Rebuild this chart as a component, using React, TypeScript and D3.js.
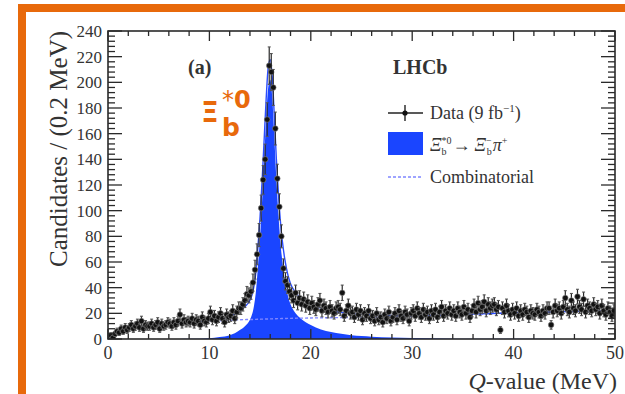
import React from 'react';
import * as d3 from 'd3';

// ---------- DATA ----------
const binStart = 0;
const binWidth = 0.2; // MeV
const dataCounts: number[] = [
  2, 3, 1, 4, 6, 5, 8, 6, 9, 7,
  9, 11, 8, 10, 12, 9, 14, 8, 11, 10,
  10, 12, 9, 11, 13, 8, 12, 10, 11, 13,
  12, 10, 13, 11, 14, 19, 12, 15, 13, 14,
  13, 16, 12, 15, 14, 11, 17, 14, 13, 16,
  21, 15, 18, 14, 17, 20, 16, 13, 19, 17,
  18, 22, 16, 21, 24, 24, 27, 30, 35, 34,
  37, 44, 54, 66, 81, 102, 124, 140, 171, 213,
  208, 196, 164, 125, 103, 80, 55, 45, 42, 37,
  34, 30, 36, 28, 32, 27, 31, 26, 29, 24,
  28, 25, 23, 27, 30, 22, 26, 24, 21, 25,
  22, 20, 24, 25, 23, 36, 18, 22, 26, 20,
  21, 17, 23, 19, 22, 15, 20, 18, 22, 16,
  18, 14, 20, 15, 17, 13, 19, 16, 21, 14,
  17, 20, 15, 22, 18, 16, 21, 19, 14, 20,
  22, 18, 24, 20, 17, 23, 19, 21, 16, 22,
  19, 23, 17, 21, 25, 18, 22, 20, 24, 19,
  22, 18, 24, 21, 19, 25, 20, 23, 17, 22,
  26, 21, 28, 23, 25, 29, 22, 27, 24, 26,
  27, 23, 25, 7, 24, 21, 26, 22, 19, 23,
  20, 24, 18, 22, 19, 23, 21, 17, 22, 20,
  19, 23, 21, 18, 22, 20, 24, 24, 11, 21,
  26, 22, 24, 20, 25, 32, 23, 21, 30, 24,
  22, 33, 25, 23, 31, 21, 26, 24, 22, 27,
  23, 25, 20, 26, 22, 19, 24, 21, 18, 22,
];

const fitQ: number[] = [
  0, 0.5, 1, 2, 3, 4, 5, 6, 7, 8, 9, 10, 11, 12,
  12.5, 13, 13.5, 14,
  14.2, 14.4, 14.6, 14.8, 15.0, 15.2, 15.4, 15.6, 15.8, 16.0, 16.2, 16.4, 16.6, 16.8, 17.0, 17.2, 17.4, 17.6, 17.8,
  18, 18.5, 19, 19.5, 20,
  21, 22, 23, 24, 25, 26,
  28, 30, 33, 36, 40, 45, 50,
];
const signalFit: number[] = [
  0, 0, 0, 0, 0, 0, 0, 0, 0.05, 0.1, 0.25, 0.5, 1.5, 3,
  4.5, 7, 10, 15,
  19, 26, 38, 58, 80, 108, 140, 172, 196, 202, 188, 158, 125, 98, 76, 60, 48, 39, 32,
  27, 20, 16, 13, 11,
  7.5, 5.5, 4, 3, 2.3, 1.8,
  1.1, 0.7, 0.4, 0.2, 0.1, 0, 0,
];
const combinatorialFit: number[] = [
  0, 3, 5, 7.5, 9, 10, 11, 11.5, 12.2, 12.8, 13.3, 13.8, 14.2, 14.6,
  14.8, 15, 15.1, 15.2,
  15.2, 15.3, 15.3, 15.4, 15.4, 15.5, 15.5, 15.6, 15.6, 15.7, 15.7, 15.8, 15.8, 15.9, 15.9, 16, 16, 16, 16.1,
  16.1, 16.2, 16.3, 16.3, 16.4,
  16.5, 16.6, 16.7, 16.8, 16.9, 17,
  17.2, 17.6, 18.3, 19.2, 20.3, 21.3, 22,
];

const xTickValues = [0, 10, 20, 30, 40, 50];
const yTickValues = [0, 20, 40, 60, 80, 100, 120, 140, 160, 180, 200, 220, 240];

// ---------- LAYOUT ----------
const W = 625;
const H = 394;
const L = 108, R = 615, T = 31, B = 339;
const ORANGE = '#E8690B';
const BLUE = '#1a45ff';
const AXIS = '#2a2a2a';
const TXT = '#333';
const SERIF = '"Liberation Serif", "Times New Roman", serif';
const SANS = '"DejaVu Sans", sans-serif';

export default function App() {
  const x = d3.scaleLinear().domain([0, 50]).range([L, R]);
  const y = d3.scaleLinear().domain([0, 240]).range([B, T]);

  const fitPts = fitQ.map((q, i) => ({ q, s: signalFit[i], b: combinatorialFit[i] }));
  const sigArea = d3.area<any>().x(d => x(d.q)).y0(y(0)).y1(d => y(d.s)).curve(d3.curveMonotoneX);
  const bkgLine = d3.line<any>().x(d => x(d.q)).y(d => y(d.b)).curve(d3.curveMonotoneX);
  const totLine = d3.line<any>().x(d => x(d.q)).y(d => y(d.s + d.b)).curve(d3.curveMonotoneX);

  const pts = dataCounts.map((n, i) => ({ q: binStart + binWidth * (i + 0.5), n }));

  const xMinor = d3.range(0, 50.001, 2);
  const yMinor = d3.range(0, 240.001, 4);

  return (
    <svg width={W} height={H} style={{ position: 'absolute', left: 0, top: 0, background: '#fff' }}
      xmlns="http://www.w3.org/2000/svg">
      <rect x={0} y={0} width={W} height={H} fill="#fff" />
      {/* orange frame */}
      <rect x={18} y={4} width={W - 18} height={8} fill={ORANGE} />
      <rect x={18} y={4} width={8} height={H - 4} fill={ORANGE} />

      <defs>
        <clipPath id="plotclip">
          <rect x={L} y={T} width={R - L} height={B - T} />
        </clipPath>
      </defs>

      <g clipPath="url(#plotclip)">
        <path d={sigArea(fitPts) || ''} fill={BLUE} stroke="none" />
        <path d={bkgLine(fitPts) || ''} fill="none" stroke="#7f86ff" strokeWidth={1.4} strokeDasharray="3,2" />
        <path d={totLine(fitPts) || ''} fill="none" stroke="#2b4dff" strokeWidth={1.4} />
        {pts.map((p, i) => {
          const e = Math.sqrt(p.n);
          const cx = x(p.q);
          return (
            <g key={i}>
              {p.n > 0 && (
                <>
                  <line x1={cx} x2={cx} y1={y(p.n - e)} y2={y(p.n + e)} stroke="#2a2a2a" strokeWidth={1.2} />
                  <line x1={cx - 1.5} x2={cx + 1.5} y1={y(p.n - e)} y2={y(p.n - e)} stroke="#555" strokeWidth={1.1} />
                  <line x1={cx - 1.5} x2={cx + 1.5} y1={y(p.n + e)} y2={y(p.n + e)} stroke="#555" strokeWidth={1.1} />
                </>
              )}
              <line x1={x(p.q - binWidth / 2)} x2={x(p.q + binWidth / 2)} y1={y(p.n)} y2={y(p.n)} stroke="#444" strokeWidth={1} />
              <circle cx={cx} cy={y(p.n)} r={2.8} fill="#111" stroke="#888" strokeWidth={0.6} />
            </g>
          );
        })}
      </g>

      {/* frame */}
      <rect x={L} y={T} width={R - L} height={B - T} fill="none" stroke={AXIS} strokeWidth={1.6} />

      {/* x ticks */}
      {xMinor.map((v, i) => {
        const major = Math.abs(v % 10) < 1e-6;
        const len = major ? 10 : 5;
        return (
          <g key={'xt' + i} stroke={AXIS} strokeWidth={1.3}>
            <line x1={x(v)} x2={x(v)} y1={B} y2={B - len} />
            <line x1={x(v)} x2={x(v)} y1={T} y2={T + len} />
          </g>
        );
      })}
      {/* y ticks */}
      {yMinor.map((v, i) => {
        const major = Math.abs(v % 20) < 1e-6;
        const len = major ? 14 : 7;
        return (
          <g key={'yt' + i} stroke={AXIS} strokeWidth={1.3}>
            <line x1={L} x2={L + len} y1={y(v)} y2={y(v)} />
            <line x1={R} x2={R - len} y1={y(v)} y2={y(v)} />
          </g>
        );
      })}

      {/* tick labels */}
      {xTickValues.map(v => (
        <text key={'xl' + v} x={x(v)} y={359} textAnchor="middle" fontFamily={SERIF} fontSize={18} fill={TXT}>{v}</text>
      ))}
      {yTickValues.map(v => (
        <text key={'yl' + v} x={102} y={y(v) + 6} textAnchor="end" fontFamily={SERIF} fontSize={17} fill={TXT}>{v}</text>
      ))}

      {/* axis titles */}
      <text transform={`translate(67,149) rotate(-90)`} textAnchor="middle" fontFamily={SERIF} fontSize={25} fill={TXT}>
        Candidates / (0.2 MeV)
      </text>
      <text x={617} y={389} textAnchor="end" fontFamily={SERIF} fontSize={24} fill={TXT}>
        <tspan fontStyle="italic">Q</tspan>-value (MeV)
      </text>

      {/* (a) and LHCb */}
      <text x={188} y={74} fontFamily={SERIF} fontSize={20} fontWeight="bold" fill={TXT}>(a)</text>
      <text x={393} y={74} fontFamily={SERIF} fontSize={20} fontWeight="bold" fill={TXT}>LHCb</text>

      {/* orange label: Ξ_b^{*0} */}
      <g fill={ORANGE} fontFamily={SANS} fontWeight="bold">
        <text x={201} y={122} fontSize={28}>Ξ</text>
        <text x={222} y={108} fontSize={24}><tspan fontWeight="normal">*</tspan>0</text>
        <text x={222} y={136} fontSize={25}>b</text>
      </g>

      {/* legend */}
      <g>
        <line x1={388} x2={423} y1={113} y2={113} stroke="#222" strokeWidth={1.4} />
        <line x1={405} x2={405} y1={105} y2={121} stroke="#222" strokeWidth={1.4} />
        <circle cx={405} cy={113} r={2.6} fill="#111" />
        <text x={430} y={119} fontFamily={SERIF} fontSize={18} fill={TXT}>
          Data (9 fb<tspan fontSize={11} dy={-7}>−1</tspan><tspan dy={7}>)</tspan>
        </text>

        <rect x={388} y={132} width={35} height={23} fill={BLUE} />
        <text x={430} y={151} fontFamily={SERIF} fontSize={18} fill={TXT}>
          <tspan fontStyle="italic">Ξ</tspan><tspan fontSize={10} dy={-7}>*0</tspan><tspan fontSize={10} dx={-10} dy={11}>b</tspan><tspan dx={6} dy={-4}>→</tspan><tspan dx={4} fontStyle="italic">Ξ</tspan><tspan fontSize={10} dy={-7}>−</tspan><tspan fontSize={10} dx={-5} dy={11}>b</tspan><tspan dy={-4} dx={1} fontStyle="italic">π</tspan><tspan fontSize={10} dy={-7}>+</tspan>
        </text>

        <line x1={388} x2={423} y1={177} y2={177} stroke="#7f86ff" strokeWidth={1.4} strokeDasharray="3,2" />
        <text x={430} y={183} fontFamily={SERIF} fontSize={18} fill={TXT}>Combinatorial</text>
      </g>
    </svg>
  );
}
